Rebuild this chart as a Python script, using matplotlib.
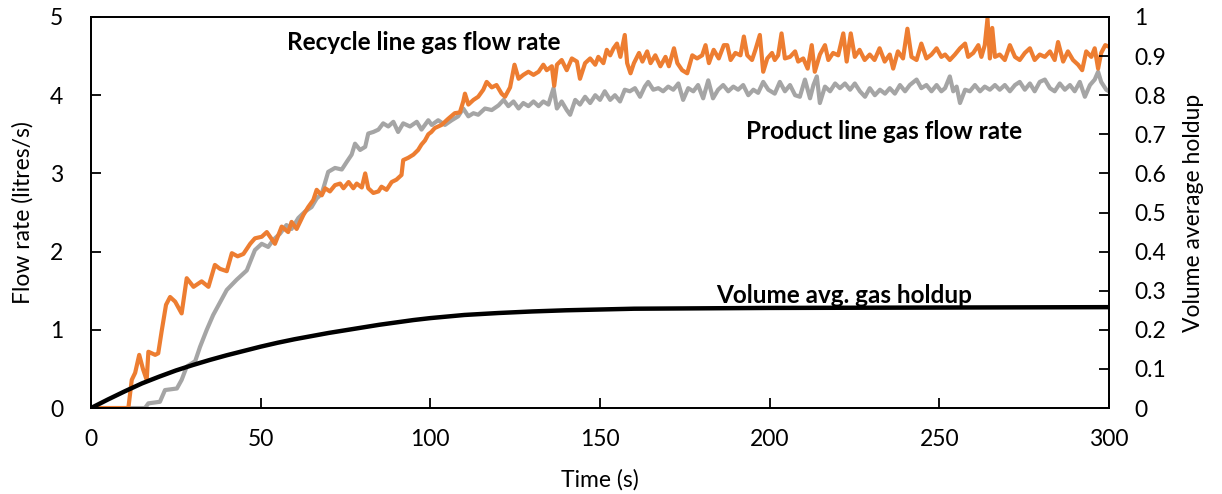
import matplotlib
matplotlib.use("Agg")
import matplotlib.pyplot as plt
from matplotlib.ticker import FuncFormatter, MultipleLocator

plt.rcParams['font.family'] = ['Lato', 'DejaVu Sans']

# recycle line gas flow rate (litres/s)
t_recycle = [0, 11, 12, 13, 14.2, 15.3, 16.4, 16.9, 18.9, 19.8, 20.8, 22.1, 23.3, 24.8, 26.7, 28.2,
             30.2, 32.6, 34.6, 36.5, 38, 40, 41.5, 43.2, 44.9, 46.9, 48.3, 50.3, 51.8, 54.2, 56.2,
             58.1, 59.1, 60.6, 62.6, 64, 65.5, 66.5, 68, 69, 70.4, 71.9, 73.4, 74.4, 75.9, 77.3,
             78.3, 79.8, 80.8, 81.7, 83.2, 84.7, 85.6, 87.1, 88.6, 90, 91.5, 92, 93.5, 95, 96.4,
             97.4, 98.4, 99.4, 100.3, 101.3, 103.3, 105.3, 107.2, 108.7, 109.7, 110.2, 111.2,
             112.7, 114.1, 115.6, 116.6, 118.1, 119.5, 121, 122, 123.5, 124.8, 126, 127.4, 128.9,
             130.4, 131.9, 133.3, 134.3, 135.8, 136.5, 137.3, 138.7, 140.2, 141.7, 143.2, 144.1,
             145.6, 147.1, 148.6, 149.5, 151, 152, 153, 154, 155, 156, 157.3, 158, 159, 160,
             161.5, 162.5, 163.9, 164.9, 166.3, 167.8, 169.3, 170.3, 171.8, 172.8, 174.2, 175.7,
             177.2, 178.6, 180.1, 181.1, 182.1, 183.5, 185, 186.5, 187.5, 188.5, 189.9, 191.4,
             192.4, 193.4, 194.8, 195.8, 197.1, 198.1, 199.3, 200.7, 201.5, 202.5, 203.5, 204.5,
             206, 207.5, 208.4, 209.9, 211.2, 212.4, 213.3, 214.8, 216.3, 217.3, 218.7, 220.2,
             221.7, 222.7, 223.9, 225.1, 226.5, 228, 229.5, 230.9, 232.4, 233.9, 235.4, 236.4,
             237.8, 239.3, 240.6, 241.8, 243.3, 244.7, 246.2, 247.7, 249.2, 250.6, 251.7, 253.1,
             254.6, 256.1, 257.6, 258.5, 260, 261.5, 262.4, 263.4, 264.2, 264.9, 265.6, 266.4,
             267.8, 269.3, 270.8, 272.3, 273.7, 275.2, 276.7, 278.1, 279.6, 281.1, 282.6, 284,
             285, 286.5, 287.9, 289.4, 290.9, 292.1, 293.3, 294.8, 295.8, 296.8, 297.7, 298.9, 300]
q_recycle = [0, 0, 0.36, 0.45, 0.68, 0.5, 0.36, 0.72, 0.68, 0.7, 0.98, 1.32, 1.42, 1.36, 1.21, 1.66,
             1.55, 1.62, 1.55, 1.83, 1.78, 1.75, 1.98, 1.94, 1.97, 2.1, 2.17, 2.19, 2.25, 2.1, 2.32,
             2.25, 2.38, 2.29, 2.47, 2.57, 2.66, 2.79, 2.72, 2.81, 2.77, 2.85, 2.87, 2.81, 2.89, 2.81,
             2.87, 2.82, 3.0, 2.81, 2.75, 2.77, 2.83, 2.79, 2.89, 2.92, 2.98, 3.17, 3.2, 3.24, 3.3,
             3.37, 3.42, 3.5, 3.53, 3.58, 3.62, 3.7, 3.77, 3.78, 3.92, 4.02, 3.88,
             3.94, 3.98, 4.07, 4.17, 4.1, 4.13, 4.02, 3.98, 4.1, 4.39, 4.21, 4.26, 4.3,
             4.26, 4.3, 4.39, 4.32, 4.37, 4.12, 4.39, 4.45, 4.32, 4.47, 4.43, 4.21,
             4.41, 4.47, 4.39, 4.49, 4.41, 4.58, 4.51, 4.6, 4.66, 4.49, 4.77, 4.41, 4.28, 4.41,
             4.54, 4.43, 4.56, 4.41, 4.51, 4.37, 4.49, 4.37, 4.6, 4.41, 4.32, 4.28,
             4.51, 4.47, 4.51, 4.64, 4.41, 4.58, 4.47, 4.64, 4.64, 4.45, 4.54, 4.51,
             4.75, 4.51, 4.45, 4.58, 4.77, 4.3, 4.47, 4.54, 4.45, 4.51, 4.79, 4.47,
             4.49, 4.56, 4.43, 4.47, 4.34, 4.64, 4.3, 4.52, 4.64, 4.45, 4.54, 4.51,
             4.79, 4.43, 4.79, 4.49, 4.58, 4.45, 4.52, 4.45, 4.6, 4.43, 4.52, 4.34,
             4.56, 4.47, 4.85, 4.49, 4.45, 4.66, 4.47, 4.52, 4.6, 4.49, 4.52, 4.45,
             4.52, 4.6, 4.66, 4.49, 4.54, 4.64, 4.49, 4.64, 4.98, 4.47, 4.86, 4.49,
             4.52, 4.45, 4.64, 4.49, 4.45, 4.54, 4.6, 4.45, 4.52, 4.49, 4.56, 4.45,
             4.68, 4.43, 4.56, 4.45, 4.39, 4.32, 4.56, 4.49, 4.6, 4.34, 4.54, 4.64, 4.62]

# product line gas flow rate (litres/s)
t_product = [0, 15.9, 16.9, 20.3, 21.8, 25.3, 26.7, 28.2, 30.7, 32.1, 34.1, 36, 38, 40, 42.9, 45.9,
             48.3, 50.3, 52.2, 53.7, 55.7, 57.6, 59.1, 61.1, 63, 65, 66.5, 68, 69, 69.9, 71.9,
             73.9, 75.4, 76.8, 77.8, 79.3, 80.8, 81.7, 83.2, 84.7, 86.1, 87.6, 89.1, 90.5, 92, 94,
             96, 97.4, 99.4, 100.4, 102.3, 104.3, 106.3, 108.2, 109.7, 111.2, 112.7, 114.1, 116.1,
             118.1, 120.1, 121.6, 123, 124.5, 126, 127.4, 128.9, 130.4, 131.9, 133.3, 134.8, 136.3,
             137.3, 138.7, 140.2, 141.2, 142.7, 144.1, 145.6, 147.1, 148.6, 150, 151.4, 153, 154.4,
             155.9, 157.3, 158.8, 160.3, 161.8, 163.2, 164.2, 165.7, 167.2, 168.6, 170.1, 171.6,
             173.1, 174.5, 176, 177.5, 178.9, 180.4, 181.9, 183.3, 184.8, 186.3, 187.8, 189.3,
             190.7, 192.2, 193.7, 195.2, 196.6, 198.1, 199.6, 201.5, 203, 204.5, 206, 207.5, 208.9,
             210.4, 211.9, 212.9, 213.9, 214.8, 216.3, 217.8, 219.3, 220.7, 222.2, 223.7, 225.1,
             226.6, 228.1, 229.5, 231, 232.5, 234, 235.4, 236.9, 238.4, 239.9, 241.3, 243.3, 244.7,
             246.2, 247.7, 249.2, 250.6, 251.7, 253.1, 254.1, 255.1, 256.1, 257.6, 259, 260.5, 262,
             263.4, 264.9, 266.4, 267.8, 269.3, 270.8, 272.3, 273.7, 275.2, 276.7, 278.1, 279.6,
             281.1, 282.6, 284, 285.5, 287, 288.5, 289.9, 291.4, 292.9, 294.4, 295.8, 296.8, 297.7,
             299.2, 300]
q_product = [0, 0, 0.06, 0.08, 0.23, 0.25, 0.36, 0.53, 0.6, 0.78, 1.0, 1.19, 1.35, 1.51, 1.64, 1.76,
             2.02, 2.1, 2.06, 2.15, 2.23, 2.34, 2.29, 2.43, 2.51, 2.57, 2.68, 2.74, 2.89, 3.02, 3.07,
             3.05, 3.15, 3.24, 3.38, 3.3, 3.34, 3.51, 3.53, 3.56, 3.64, 3.6, 3.66, 3.53, 3.64, 3.6,
             3.66, 3.56, 3.68, 3.62, 3.68, 3.62, 3.68, 3.73, 3.83, 3.73, 3.77, 3.75, 3.83,
             3.81, 3.87, 3.94, 3.86, 3.92, 3.83, 3.9, 3.86, 3.92, 3.86, 3.92, 3.88, 4.09,
             3.83, 3.92, 3.81, 3.75, 3.94, 3.88, 3.98, 3.9, 4.0, 3.94, 4.05, 3.94, 4.0,
             3.92, 4.07, 4.05, 4.09, 3.98, 4.11, 4.17, 4.07, 4.09, 4.05, 4.11, 4.07,
             4.15, 3.94, 4.09, 4.05, 4.13, 3.96, 4.19, 3.96, 4.07, 4.13, 4.05, 4.11,
             4.07, 4.13, 4.0, 4.07, 4.03, 4.17, 4.07, 4.02, 4.17, 4.05, 4.13, 4.0, 3.98,
             4.2, 3.96, 4.13, 4.24, 3.9, 4.11, 4.05, 4.15, 4.09, 4.15, 4.07, 4.15,
             4.05, 3.98, 4.09, 4.0, 4.07, 4.02, 4.09, 4.02, 4.13, 4.05, 4.13, 4.2, 4.09,
             4.13, 4.05, 4.13, 4.05, 4.09, 4.24, 4.05, 4.11, 3.9, 4.07, 4.05, 4.13, 4.05,
             4.11, 4.07, 4.13, 4.07, 4.13, 4.05, 4.13, 4.17, 4.07, 4.15, 4.05, 4.17,
             4.2, 4.09, 4.05, 4.15, 4.07, 4.13, 4.05, 4.17, 3.98, 4.13, 4.2, 4.3, 4.17,
             4.07, 4.05]

# volume average gas holdup (right axis)
t_holdup = [0, 5, 10, 15, 20, 25, 30, 35, 40, 45, 50, 55, 60, 65, 70, 75, 80, 85, 90, 95, 100,
            110, 120, 130, 140, 150, 160, 180, 200, 250, 300]
holdup = [0, 0.022, 0.043, 0.063, 0.08, 0.096, 0.11, 0.123, 0.135, 0.146, 0.157, 0.167, 0.176,
          0.184, 0.192, 0.199, 0.206, 0.213, 0.219, 0.225, 0.23, 0.238, 0.243, 0.247, 0.25,
          0.252, 0.254, 0.255, 0.256, 0.257, 0.258]

fig, ax = plt.subplots(figsize=(12.22, 4.94), dpi=100)
fig.subplots_adjust(left=0.0745, right=0.9075, top=0.9656, bottom=0.174)

ax.plot(t_product, q_product, color='#A5A5A5', lw=3.0, solid_joinstyle='round')
ax.plot(t_recycle, q_recycle, color='#ED7D31', lw=3.0, solid_joinstyle='round')

ax2 = ax.twinx()
ax2.plot(t_holdup, holdup, color='black', lw=3.2)

ax.set_xlim(0, 300)
ax.set_ylim(0, 5)
ax2.set_ylim(0, 1)
ax.xaxis.set_major_locator(MultipleLocator(50))
ax.yaxis.set_major_locator(MultipleLocator(1))
ax2.yaxis.set_major_locator(MultipleLocator(0.1))
ax2.yaxis.set_major_formatter(FuncFormatter(lambda v, p: '%g' % round(v, 1)))

ax.tick_params(axis='y', direction='in', length=7, width=1.3, labelsize=16.5, pad=20)
ax.tick_params(axis='x', direction='in', length=7, width=1.3, labelsize=16.5, pad=15)
ax2.tick_params(axis='y', direction='in', length=7, width=1.3, labelsize=16.5, pad=18)
for a in (ax, ax2):
    for s in a.spines.values():
        s.set_linewidth(1.3)

ax.set_xlabel('Time (s)', fontsize=16.5, labelpad=14)
ax.set_ylabel('Flow rate (litres/s)', fontsize=16.5, labelpad=12)
ax2.set_ylabel('Volume average holdup', fontsize=16.5, labelpad=12)

ax.text(98, 4.68, 'Recycle line gas flow rate', fontsize=17.5, fontweight='bold', ha='center', va='center')
ax.text(233.7, 3.53, 'Product line gas flow rate', fontsize=17.5, fontweight='bold', ha='center', va='center')
ax.text(222, 1.445, 'Volume avg. gas holdup', fontsize=17.5, fontweight='bold', ha='center', va='center')

fig.savefig('out.png', dpi=100)
